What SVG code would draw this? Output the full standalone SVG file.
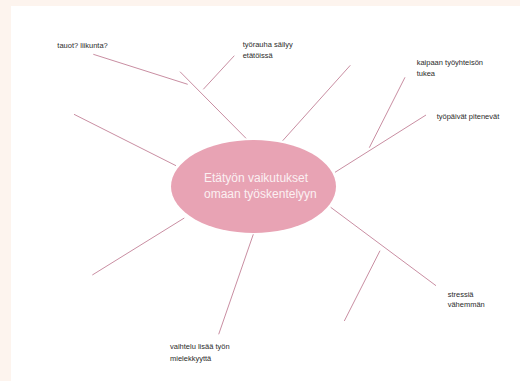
<svg xmlns="http://www.w3.org/2000/svg" width="520" height="381" viewBox="0 0 520 381">
<style>
.bg{fill:#fdf4ee}
.paper{fill:#ffffff}
.ln{stroke:#c98ea2;stroke-width:1;fill:none}
.lbl{font-family:"Liberation Sans",Arial,sans-serif;font-size:7.5px;fill:#2b2b2b}
.ttl{font-family:"Liberation Sans",Arial,sans-serif;font-size:12px;fill:#fbf0f2}
</style>
<rect class="bg" x="0" y="0" width="520" height="381"/>
<rect class="paper" x="11" y="6" width="509" height="375"/>
<g id="connectors">
<line class="ln" x1="93.3" y1="54.3" x2="187.7" y2="84.3"/>
<line class="ln" x1="180" y1="71.7" x2="246" y2="138.3"/>
<line class="ln" x1="234.3" y1="55.7" x2="203.3" y2="89.3"/>
<line class="ln" x1="350.3" y1="65.3" x2="282.7" y2="140.7"/>
<line class="ln" x1="405" y1="77.3" x2="369.3" y2="147.7"/>
<line class="ln" x1="426" y1="115" x2="335" y2="172.3"/>
<line class="ln" x1="74" y1="114.3" x2="176" y2="165.7"/>
<line class="ln" x1="184.3" y1="218" x2="92.3" y2="275"/>
<line class="ln" x1="253.3" y1="234.3" x2="218.7" y2="334.3"/>
<line class="ln" x1="330.7" y1="207.3" x2="436" y2="285.7"/>
<line class="ln" x1="380" y1="250.7" x2="344.3" y2="321"/>
</g>
<g id="center">
<ellipse cx="253.5" cy="186.5" rx="82.5" ry="46.5" fill="#e8a3b4"/>
<text class="ttl" x="204" y="182">Etätyön vaikutukset</text>
<text class="ttl" x="204" y="198">omaan työskentelyyn</text>
</g>
<g id="n-tauot"><text class="lbl" x="57.3" y="47.5">tauot? liikunta?</text></g>
<g id="n-tyorauha"><text class="lbl" x="242.7" y="46.5">työrauha säilyy</text><text class="lbl" x="242.7" y="58">etätöissä</text></g>
<g id="n-kaipaan"><text class="lbl" x="416.7" y="65">kaipaan työyhteisön</text><text class="lbl" x="416.7" y="76">tukea</text></g>
<g id="n-tyopaivat"><text class="lbl" x="436.7" y="119">työpäivät pitenevät</text></g>
<g id="n-stressia"><text class="lbl" x="447.7" y="296.5">stressiä</text><text class="lbl" x="447.7" y="307.3">vähemmän</text></g>
<g id="n-vaihtelu"><text class="lbl" x="170" y="349">vaihtelu lisää työn</text><text class="lbl" x="170" y="361">mielekkyyttä</text></g>
</svg>
